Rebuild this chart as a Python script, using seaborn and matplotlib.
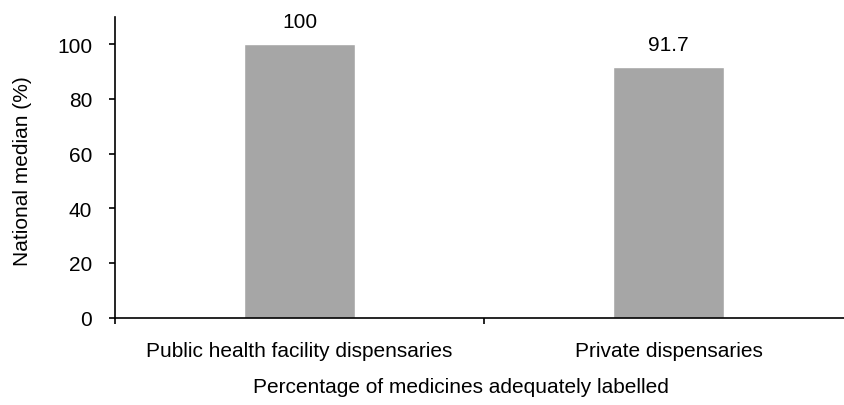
import matplotlib
matplotlib.use("Agg")
import matplotlib.pyplot as plt
import seaborn as sns
import pandas as pd
from matplotlib.ticker import FixedLocator

categories = ["Public health facility dispensaries", "Private dispensaries"]
values = [100, 91.7]
value_labels = ["100", "91.7"]
y_ticks = [0, 20, 40, 60, 80, 100]

sns.set_theme(style="white")
plt.rcParams['font.family'] = ['Liberation Sans', 'DejaVu Sans']

FS = 15

df = pd.DataFrame({"cat": categories, "val": values})

fig = plt.figure(figsize=(8.45, 4.06), dpi=100)
ax = fig.add_axes([115/845, (406-318.5)/406, (853-115)/845, (318.5-18)/406])

sns.barplot(data=df, x="cat", y="val", color="#A6A6A6", width=0.3, saturation=1, ax=ax)

ax.set_xlim(-0.5, 1.5)
ax.set_ylim(0, 110)
ax.set_yticks(y_ticks)
ax.set_yticklabels([str(t) for t in y_ticks], fontsize=FS, color="black")
ax.set_xticks(range(len(categories)))
ax.set_xticklabels(categories, fontsize=FS, color="black")
ax.xaxis.set_minor_locator(FixedLocator([-0.5, 0.5, 1.5]))
ax.tick_params(axis="x", which="major", length=0, pad=17)
ax.tick_params(axis="x", which="minor", length=4.5, width=1.2, direction="out", color="black", bottom=True)
ax.tick_params(axis="y", which="major", length=4.5, width=1.2, direction="out", color="black", left=True, pad=12)

for s in ["top", "right"]:
    ax.spines[s].set_visible(False)
for s in ["left", "bottom"]:
    ax.spines[s].set_color("black")
    ax.spines[s].set_linewidth(1.2)

for i, (v, lab) in enumerate(zip(values, value_labels)):
    ax.annotate(lab, (i, v), xytext=(0, 16.5), textcoords="offset points",
                ha="center", va="center", fontsize=FS, color="black")

ax.set_ylabel("National median (%)", fontsize=FS, color="black", va="center")
ax.yaxis.set_label_coords((22-115)/738, (318.5-171.5)/300.5)
ax.set_xlabel("Percentage of medicines adequately labelled", fontsize=FS, color="black", va="center")
ax.xaxis.set_label_coords((461-115)/738, (318.5-388)/300.5)

fig.savefig("out.png", dpi=100)
